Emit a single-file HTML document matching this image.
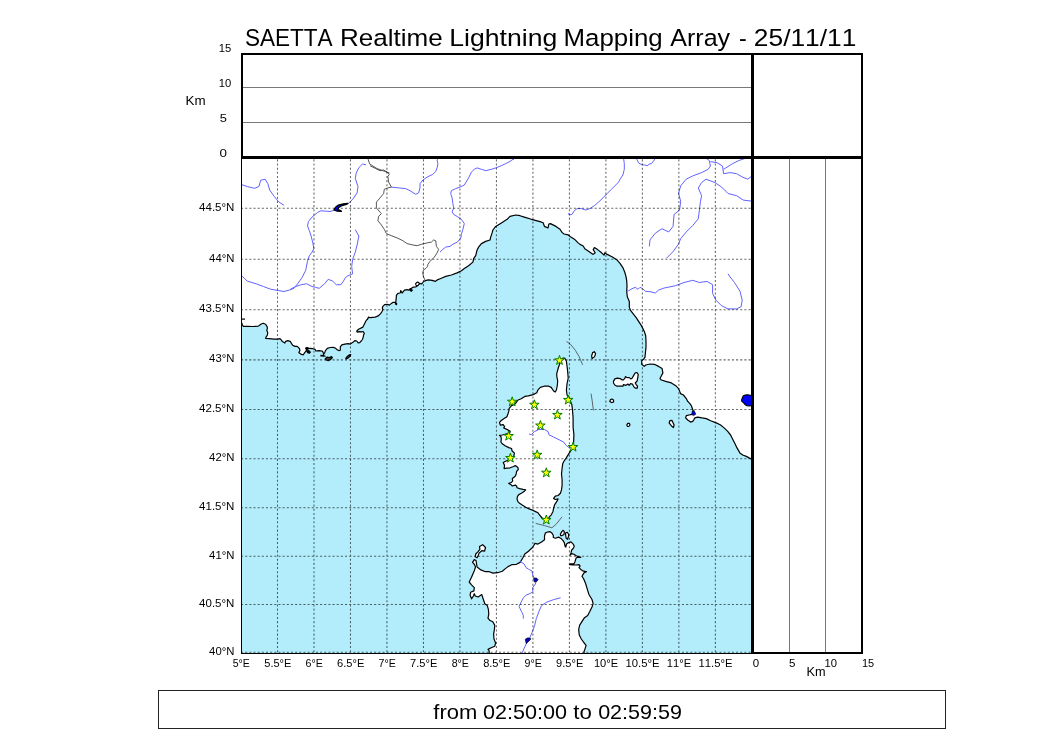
<!DOCTYPE html><html><head><meta charset="utf-8"><style>html,body{margin:0;padding:0;background:#fff;width:1050px;height:750px;overflow:hidden}svg{display:block;will-change:transform}text{font-family:"Liberation Sans",sans-serif;fill:#000;font-kerning:none}</style></head><body>
<svg width="1050" height="750" viewBox="0 0 1050 750">
<rect width="1050" height="750" fill="#fff"/>
<defs><clipPath id="mc"><rect x="241" y="157" width="511" height="496"/></clipPath></defs>
<g clip-path="url(#mc)">
<rect x="241" y="157" width="511" height="496" fill="#b3edfc"/>
<path d="M241.0,323.0 L241.9,323.0 L242.2,324.8 L243.4,326.3 L247.0,326.3 L253.0,326.5 L258.4,326.1 L260.8,324.2 L263.2,323.3 L265.6,324.2 L267.1,326.6 L267.4,328.4 L266.8,330.2 L267.7,332.6 L267.4,335.0 L266.2,336.8 L265.6,338.3 L269.2,338.6 L274.0,339.2 L277.6,339.2 L280.0,338.6 L281.2,339.8 L282.4,341.6 L284.8,343.1 L285.7,341.3 L287.8,340.7 L290.2,341.3 L291.4,343.4 L292.6,345.2 L295.0,346.4 L297.2,346.4 L298.4,347.5 L299.5,348.7 L299.9,350.6 L298.8,352.5 L301.4,354.4 L303.3,354.8 L304.5,352.9 L306.4,350.6 L306.8,348.3 L309.0,348.3 L312.9,348.7 L315.1,349.4 L315.9,351.0 L319.0,350.6 L322.0,351.0 L323.1,352.1 L323.5,354.4 L324.7,352.9 L325.4,350.6 L327.3,348.3 L330.4,347.5 L333.4,347.4 L335.7,348.3 L337.2,349.8 L339.1,350.6 L340.3,350.2 L340.3,346.8 L341.8,344.9 L344.9,344.1 L347.9,343.7 L350.2,344.1 L352.5,342.6 L354.8,340.7 L356.7,341.0 L358.2,342.9 L359.7,342.6 L361.2,341.0 L362.4,339.5 L363.1,337.6 L363.5,335.3 L364.3,333.4 L363.1,331.5 L361.6,331.9 L359.3,331.6 L357.1,332.1 L356.8,331.0 L358.6,329.3 L362.9,327.1 L364.3,324.3 L366.4,320.0 L367.4,319.4 L368.6,317.1 L370.3,317.7 L372.6,317.4 L374.9,317.1 L376.6,316.6 L378.9,315.4 L380.6,313.7 L381.7,312.0 L382.9,309.7 L382.3,308.0 L382.9,306.3 L384.6,304.6 L387.4,304.3 L389.4,305.1 L391.4,303.4 L393.1,302.3 L395.4,302.3 L396.6,303.4 L396.6,304.6 L395.4,304.0 L396.0,300.6 L396.3,297.1 L396.4,295.3 L397.9,293.4 L400.2,293.0 L400.7,290.6 L402.1,293.0 L404.5,290.1 L406.9,289.6 L408.8,290.1 L410.7,288.7 L413.1,287.2 L416.0,286.8 L417.4,285.8 L419.8,283.4 L421.7,283.9 L423.6,281.5 L425.5,280.6 L428.3,279.9 L432.1,280.3 L435.5,281.3 L437.9,279.6 L440.2,278.7 L442.6,277.7 L445.7,276.4 L451.4,275.0 L457.1,272.9 L461.4,270.7 L464.3,268.6 L468.6,265.7 L472.9,262.1 L473.6,258.6 L475.7,255.7 L477.1,250.0 L478.6,247.1 L481.4,243.6 L485.7,241.4 L490.0,240.0 L490.7,237.1 L492.1,232.9 L492.9,230.0 L495.7,226.4 L501.4,222.9 L507.1,219.3 L510.0,216.4 L515.7,215.0 L520.0,215.7 L524.3,217.1 L531.4,219.3 L540.0,221.6 L543.2,222.8 L544.4,226.4 L548.0,228.0 L548.8,224.0 L550.4,223.6 L556.0,226.4 L560.0,229.2 L562.0,232.4 L564.0,234.0 L568.0,234.8 L570.4,236.8 L574.4,239.2 L577.6,242.4 L580.0,244.4 L583.2,246.0 L584.8,248.8 L589.6,252.0 L593.2,254.4 L595.2,252.8 L593.2,249.6 L594.4,247.6 L597.6,249.6 L601.6,252.8 L604.0,255.2 L604.8,252.8 L607.2,254.4 L612.0,256.8 L616.7,259.7 L620.0,263.3 L622.7,267.3 L624.7,272.0 L626.0,276.7 L626.7,280.7 L627.0,286.0 L626.7,291.3 L627.3,296.7 L629.3,301.4 L629.3,307.1 L630.7,310.7 L633.6,314.3 L636.4,317.9 L638.6,321.4 L641.4,325.7 L642.9,328.6 L644.3,331.4 L645.7,335.7 L646.0,341.4 L646.0,347.1 L645.4,352.9 L645.0,357.1 L643.6,359.3 L641.7,360.7 L641.7,364.3 L644.3,366.4 L645.7,365.0 L650.0,364.0 L654.3,364.3 L658.6,366.4 L662.1,368.6 L662.9,372.9 L661.4,375.7 L660.0,378.6 L661.4,380.0 L665.7,381.4 L671.4,382.9 L675.7,385.7 L678.6,388.6 L680.6,393.6 L683.4,395.0 L686.3,398.6 L687.7,401.4 L689.9,403.6 L691.3,405.7 L692.7,409.3 L693.4,412.1 L692.0,414.3 L689.1,415.0 L686.3,415.7 L685.6,417.9 L687.7,420.0 L690.6,422.1 L692.7,421.4 L694.1,419.3 L694.9,417.9 L697.7,417.1 L702.0,417.9 L706.3,418.6 L710.6,420.7 L716.3,422.9 L720.6,425.0 L724.1,427.9 L727.7,431.4 L730.6,435.0 L732.7,439.3 L734.9,443.6 L737.0,447.9 L739.9,452.9 L742.7,455.0 L746.3,456.4 L749.1,457.9 L753.0,459.8 L753.0,156.0 L240.0,156.0 L240.0,323.0Z" fill="#fff"/>
<path d="M325.2,358.6 L327.0,357.2 L329.5,357.6 L331.5,356.6 L332.4,357.6 L330.5,359.5 L328.2,360.6 L326.2,360.0Z" fill="#444" stroke="#000" stroke-width="1.2" stroke-linejoin="round"/>
<path d="M345.8,358.4 L347.5,356.2 L349.5,354.8 L350.8,354.6 L350.0,356.4 L347.8,358.2 L346.2,359.0Z" fill="#444" stroke="#000" stroke-width="1.2" stroke-linejoin="round"/>
<path d="M563.2,358.0 L564.4,358.0 L565.2,358.8 L566.4,361.2 L567.0,366.0 L567.6,370.8 L568.2,378.0 L567.0,384.0 L566.4,390.0 L567.0,394.8 L569.4,398.4 L571.8,404.4 L572.4,409.2 L573.0,416.4 L573.1,420.0 L573.1,427.3 L573.9,434.7 L573.6,442.0 L573.4,444.5 L571.2,450.2 L568.9,453.6 L566.1,458.1 L563.8,461.5 L562.7,463.8 L562.1,468.3 L561.5,474.0 L562.1,479.7 L562.1,485.3 L561.5,489.9 L560.4,493.3 L558.1,495.5 L555.3,496.1 L553.6,498.4 L555.3,499.5 L558.1,498.9 L557.0,501.2 L554.7,504.6 L553.6,508.0 L553.0,511.4 L551.3,514.8 L549.1,517.1 L548.9,518.3 L546.7,521.2 L544.5,519.7 L541.6,517.5 L538.7,513.9 L538.0,512.8 L536.1,511.9 L532.6,510.2 L529.2,508.9 L525.7,507.2 L522.2,505.0 L519.6,503.3 L517.9,501.6 L517.0,499.0 L517.5,496.4 L518.8,494.6 L521.4,493.3 L524.0,491.6 L525.7,489.9 L523.1,489.4 L519.6,488.6 L517.0,487.7 L516.6,486.0 L515.3,485.1 L512.3,486.0 L511.0,484.7 L508.8,483.4 L511.4,482.5 L512.7,480.8 L512.3,478.6 L514.0,477.3 L515.3,476.0 L516.2,473.9 L516.6,471.3 L518.3,469.5 L517.9,467.4 L515.3,465.6 L513.6,466.5 L510.1,467.8 L506.7,468.2 L504.1,468.7 L504.5,465.2 L503.2,462.5 L505.1,461.5 L508.8,459.7 L512.0,457.8 L513.9,455.9 L514.4,453.1 L512.0,450.8 L511.6,448.5 L508.8,447.6 L505.1,445.7 L502.3,443.8 L500.9,442.0 L501.3,439.2 L500.9,436.4 L499.5,435.4 L502.3,435.0 L506.0,434.0 L509.7,433.1 L510.2,431.2 L506.9,429.4 L503.7,428.0 L504.6,426.6 L503.2,424.7 L500.4,425.2 L499.5,422.4 L501.3,420.5 L504.1,418.6 L506.9,416.8 L507.9,414.0 L508.8,411.2 L509.2,408.4 L511.6,405.6 L515.3,403.7 L518.1,400.0 L521.2,398.8 L524.8,396.4 L528.4,395.8 L533.2,394.6 L536.8,392.8 L538.0,389.8 L540.4,387.4 L544.0,386.2 L548.8,386.2 L551.2,387.4 L553.6,391.0 L555.2,392.0 L556.4,390.0 L557.3,385.5 L557.7,381.0 L556.9,377.0 L556.7,373.8 L557.6,370.4 L558.4,367.5 L559.5,364.5 L560.8,360.5Z" fill="#fff" stroke="#000" stroke-width="1.2" stroke-linejoin="round"/>
<path d="M489.2,655.0 L489.2,653.4 L489.2,651.0 L488.0,649.4 L491.2,647.8 L494.8,646.2 L495.6,643.0 L494.0,639.0 L493.6,634.2 L494.4,629.4 L494.8,625.4 L492.8,621.8 L489.6,620.2 L488.0,618.2 L488.8,614.2 L488.4,609.4 L487.2,605.4 L484.8,603.8 L483.2,599.0 L481.8,594.6 L478.1,597.0 L475.3,596.0 L474.3,593.7 L473.4,596.0 L471.5,598.8 L470.1,595.1 L470.6,592.3 L473.9,590.9 L474.3,587.6 L471.5,584.8 L469.2,582.0 L471.5,577.3 L474.3,570.8 L475.5,567.0 L474.5,564.5 L472.5,562.4 L474.3,559.6 L476.0,560.5 L476.5,563.5 L477.1,567.1 L480.9,569.9 L485.5,571.7 L489.3,571.7 L493.0,573.1 L497.7,572.7 L502.3,571.3 L505.1,568.9 L508.0,566.6 L511.7,564.7 L516.4,564.3 L520.1,562.4 L522.9,557.7 L524.8,554.0 L528.5,551.2 L530.0,549.8 L532.8,547.2 L535.0,543.3 L537.9,544.1 L541.6,541.9 L544.5,539.7 L544.5,536.0 L545.3,533.1 L547.5,532.0 L549.7,531.6 L551.9,533.1 L553.3,535.3 L553.3,537.5 L555.5,538.2 L558.5,537.1 L560.7,538.2 L562.9,540.4 L564.3,542.6 L565.1,546.3 L565.8,547.0 L566.5,544.1 L568.7,542.6 L571.0,541.9 L573.2,544.1 L574.3,546.3 L573.2,548.5 L571.7,550.0 L571.0,552.9 L570.2,555.1 L571.7,553.6 L573.9,554.3 L576.1,555.8 L578.3,556.5 L580.9,557.3 L577.6,557.3 L576.1,558.0 L575.0,561.7 L573.9,563.9 L570.2,563.9 L569.5,564.6 L573.2,565.0 L576.1,565.0 L579.0,564.6 L580.1,566.1 L579.0,567.6 L581.2,569.8 L583.4,571.2 L586.4,571.6 L584.2,572.7 L582.7,574.9 L582.0,576.4 L583.5,578.5 L585.6,583.5 L587.2,588.9 L588.8,594.2 L592.0,599.5 L593.1,603.3 L592.0,607.0 L589.9,611.3 L587.7,615.5 L584.5,617.7 L582.4,620.9 L579.7,625.1 L578.7,629.4 L579.2,634.7 L581.3,639.0 L584.5,643.3 L586.1,645.4 L585.1,648.6 L584.0,651.8 L584.0,655.0Z" fill="#fff" stroke="#000" stroke-width="1.2" stroke-linejoin="round"/>
<path d="M479.5,546.5 L482.7,544.7 L485.5,547.5 L484.6,551.2 L481.8,550.7 L479.0,553.1 L478.1,555.9 L477.1,557.7 L475.3,556.8 L475.7,554.0 L477.6,552.1 L479.9,549.3Z" fill="#fff" stroke="#000" stroke-width="1.2" stroke-linejoin="round"/>
<path d="M613.5,381.4 L614.8,378.9 L617.4,378.2 L620.2,378.6 L621.8,379.8 L623.4,379.8 L625.0,378.2 L625.4,376.6 L626.6,377.3 L629.2,377.6 L630.8,378.9 L632.1,378.2 L633.7,375.4 L635.3,372.8 L636.9,372.5 L638.2,374.4 L637.8,377.6 L637.2,380.8 L635.3,383.0 L636.2,384.6 L637.5,386.2 L637.2,388.2 L635.3,388.2 L633.7,386.6 L632.4,384.0 L630.5,383.7 L629.2,385.3 L627.9,384.0 L626.0,385.3 L623.4,384.6 L623.1,386.2 L620.6,386.2 L617.0,386.2 L614.8,385.0 L613.5,383.0Z" fill="#fff" stroke="#000" stroke-width="1.2" stroke-linejoin="round"/>
<path d="M592.1,358.6 L591.6,356.0 L592.6,352.6 L594.3,351.7 L595.6,353.6 L594.6,356.6Z" fill="#fff" stroke="#000" stroke-width="1.2" stroke-linejoin="round"/>
<path d="M669.9,420.7 L672.0,420.4 L674.1,425.0 L673.4,427.6 L671.3,425.7 L669.1,422.9Z" fill="#fff" stroke="#000" stroke-width="1.2" stroke-linejoin="round"/>
<path d="M609.8,401.5 L610.5,399.5 L611.8,399.0 L613.5,400.0 L613.6,402.0 L611.5,402.6Z" fill="#fff" stroke="#000" stroke-width="1.2" stroke-linejoin="round"/>
<path d="M626.8,425.0 L627.6,423.4 L629.4,423.4 L630.0,425.0 L628.8,426.5 L627.4,426.3Z" fill="#fff" stroke="#000" stroke-width="1.2" stroke-linejoin="round"/>
<path d="M560.3,534.2 L561.8,531.6 L563.2,530.3 L564.3,531.6 L564.0,534.5 L562.1,535.6 L560.7,535.6Z" fill="#fff" stroke="#000" stroke-width="1.2" stroke-linejoin="round"/>
<path d="M565.4,533.1 L567.3,532.3 L568.7,534.5 L568.4,536.7 L567.6,539.3 L566.2,538.2 L565.8,536.0Z" fill="#fff" stroke="#000" stroke-width="1.2" stroke-linejoin="round"/>
<polyline points="241.0,323.0 241.9,323.0 242.2,324.8 243.4,326.3 247.0,326.3 253.0,326.5 258.4,326.1 260.8,324.2 263.2,323.3 265.6,324.2 267.1,326.6 267.4,328.4 266.8,330.2 267.7,332.6 267.4,335.0 266.2,336.8 265.6,338.3 269.2,338.6 274.0,339.2 277.6,339.2 280.0,338.6 281.2,339.8 282.4,341.6 284.8,343.1 285.7,341.3 287.8,340.7 290.2,341.3 291.4,343.4 292.6,345.2 295.0,346.4 297.2,346.4 298.4,347.5 299.5,348.7 299.9,350.6 298.8,352.5 301.4,354.4 303.3,354.8 304.5,352.9 306.4,350.6 306.8,348.3 309.0,348.3 312.9,348.7 315.1,349.4 315.9,351.0 319.0,350.6 322.0,351.0 323.1,352.1 323.5,354.4 324.7,352.9 325.4,350.6 327.3,348.3 330.4,347.5 333.4,347.4 335.7,348.3 337.2,349.8 339.1,350.6 340.3,350.2 340.3,346.8 341.8,344.9 344.9,344.1 347.9,343.7 350.2,344.1 352.5,342.6 354.8,340.7 356.7,341.0 358.2,342.9 359.7,342.6 361.2,341.0 362.4,339.5 363.1,337.6 363.5,335.3 364.3,333.4 363.1,331.5 361.6,331.9 359.3,331.6 357.1,332.1 356.8,331.0 358.6,329.3 362.9,327.1 364.3,324.3 366.4,320.0 367.4,319.4 368.6,317.1 370.3,317.7 372.6,317.4 374.9,317.1 376.6,316.6 378.9,315.4 380.6,313.7 381.7,312.0 382.9,309.7 382.3,308.0 382.9,306.3 384.6,304.6 387.4,304.3 389.4,305.1 391.4,303.4 393.1,302.3 395.4,302.3 396.6,303.4 396.6,304.6 395.4,304.0 396.0,300.6 396.3,297.1 396.4,295.3 397.9,293.4 400.2,293.0 400.7,290.6 402.1,293.0 404.5,290.1 406.9,289.6 408.8,290.1 410.7,288.7 413.1,287.2 416.0,286.8 417.4,285.8 419.8,283.4 421.7,283.9 423.6,281.5 425.5,280.6 428.3,279.9 432.1,280.3 435.5,281.3 437.9,279.6 440.2,278.7 442.6,277.7 445.7,276.4 451.4,275.0 457.1,272.9 461.4,270.7 464.3,268.6 468.6,265.7 472.9,262.1 473.6,258.6 475.7,255.7 477.1,250.0 478.6,247.1 481.4,243.6 485.7,241.4 490.0,240.0 490.7,237.1 492.1,232.9 492.9,230.0 495.7,226.4 501.4,222.9 507.1,219.3 510.0,216.4 515.7,215.0 520.0,215.7 524.3,217.1 531.4,219.3 540.0,221.6 543.2,222.8 544.4,226.4 548.0,228.0 548.8,224.0 550.4,223.6 556.0,226.4 560.0,229.2 562.0,232.4 564.0,234.0 568.0,234.8 570.4,236.8 574.4,239.2 577.6,242.4 580.0,244.4 583.2,246.0 584.8,248.8 589.6,252.0 593.2,254.4 595.2,252.8 593.2,249.6 594.4,247.6 597.6,249.6 601.6,252.8 604.0,255.2 604.8,252.8 607.2,254.4 612.0,256.8 616.7,259.7 620.0,263.3 622.7,267.3 624.7,272.0 626.0,276.7 626.7,280.7 627.0,286.0 626.7,291.3 627.3,296.7 629.3,301.4 629.3,307.1 630.7,310.7 633.6,314.3 636.4,317.9 638.6,321.4 641.4,325.7 642.9,328.6 644.3,331.4 645.7,335.7 646.0,341.4 646.0,347.1 645.4,352.9 645.0,357.1 643.6,359.3 641.7,360.7 641.7,364.3 644.3,366.4 645.7,365.0 650.0,364.0 654.3,364.3 658.6,366.4 662.1,368.6 662.9,372.9 661.4,375.7 660.0,378.6 661.4,380.0 665.7,381.4 671.4,382.9 675.7,385.7 678.6,388.6 680.6,393.6 683.4,395.0 686.3,398.6 687.7,401.4 689.9,403.6 691.3,405.7 692.7,409.3 693.4,412.1 692.0,414.3 689.1,415.0 686.3,415.7 685.6,417.9 687.7,420.0 690.6,422.1 692.7,421.4 694.1,419.3 694.9,417.9 697.7,417.1 702.0,417.9 706.3,418.6 710.6,420.7 716.3,422.9 720.6,425.0 724.1,427.9 727.7,431.4 730.6,435.0 732.7,439.3 734.9,443.6 737.0,447.9 739.9,452.9 742.7,455.0 746.3,456.4 749.1,457.9 753.0,459.8" fill="none" stroke="#000" stroke-width="1.2" stroke-linejoin="round"/>
<ellipse cx="417.4" cy="283.9" rx="1.9" ry="1.5" transform="rotate(-40 417.4 283.9)" fill="#fff" stroke="#000" stroke-width="1.1"/>
<path d="M409.3,289 L411,288.6 L412.6,290.3 L411.6,291.5 L410,290.8 Z" fill="#000" stroke="#000" stroke-width="0.8"/>
<path d="M241,319.1 L245,319.1" stroke="#000" stroke-width="1.2"/>
<ellipse cx="307" cy="348.5" rx="1.9" ry="1.4" fill="#000"/>
<path d="M306.2,350.4 L308.6,350.1 L310.8,352.1 L309.6,353.5 L307.4,352.9 Z" fill="#000" stroke="#000" stroke-width="0.6"/>
<path d="M320.2,354.8 L323.8,354.9 L326.4,356.2 L324,356.8 L320.5,356.6 Z" fill="#000"/>
<polyline points="241.8,184.7 247.2,186.5 254.4,188.3 258.9,186.5 260.7,180.2 265.2,179.3 267.9,183.8 269.7,190.1 274.2,196.4 278.7,201.8 284.1,205.4" fill="none" stroke="#6262ff" stroke-width="1" stroke-linejoin="round"/>
<polyline points="366.1,164.9 362.5,164.0 358.9,167.6 356.2,173.0 355.3,178.4 358.0,186.5 357.1,192.8 353.5,198.2 350.8,201.3 348.3,203.3" fill="none" stroke="#6262ff" stroke-width="1" stroke-linejoin="round"/>
<polyline points="334.2,210.2 330.0,211.5 326.4,211.2 321.0,210.8 317.4,212.6 312.0,217.1 308.4,221.6 307.5,226.1 309.3,230.6 311.1,236.0 312.9,243.2 313.8,248.6 312.0,252.2 309.3,255.8 307.5,261.2 305.7,270.3 302.1,277.5 297.6,283.8 294.0,288.3 289.5,290.0 284.0,291.5" fill="none" stroke="#6262ff" stroke-width="1" stroke-linejoin="round"/>
<polyline points="355.3,229.7 358.9,236.0 357.1,245.0 355.3,252.2 352.6,259.4 351.7,266.6 352.6,273.9 348.1,275.7 345.4,277.5 343.5,281.1 340.8,284.7 336.3,284.7 332.7,281.1 328.2,279.3 324.6,283.8 319.2,288.3 315.6,287.4 312.0,286.5 306.6,283.8 301.2,284.7 295.8,286.5 290.4,289.2" fill="none" stroke="#6262ff" stroke-width="1" stroke-linejoin="round"/>
<polyline points="241.8,275.7 247.2,281.1 256.2,283.8 263.4,286.5 270.6,289.2 278.0,290.5 284.0,291.5" fill="none" stroke="#6262ff" stroke-width="1" stroke-linejoin="round"/>
<polyline points="391.4,187.1 398.6,187.9 405.7,188.6 410.0,190.7 415.7,194.3 418.6,192.9 420.0,187.9 420.0,183.6 422.9,180.0 427.1,177.1 432.9,174.3 435.7,171.4 437.1,167.9 437.9,163.6 437.1,160.0 437.9,158.6" fill="none" stroke="#6262ff" stroke-width="1" stroke-linejoin="round"/>
<polyline points="512.9,159.3 510.0,161.4 505.7,163.6 501.4,165.7 495.7,167.9 491.4,169.3 485.7,170.7 481.4,169.3 477.1,167.9 474.3,169.3 471.4,172.1 468.6,177.9 464.3,185.0 460.0,187.1 455.7,188.6 451.4,190.7 450.7,193.6 452.1,197.9 452.9,203.6 453.6,207.9 452.1,212.1 454.3,215.0 457.1,216.4 461.4,219.3 464.3,223.6 462.9,229.3 461.4,234.3 460.7,238.6 457.1,242.1 452.9,244.3 450.0,246.4 445.7,247.1 442.9,249.3 440.0,252.1" fill="none" stroke="#6262ff" stroke-width="1" stroke-linejoin="round"/>
<polyline points="512.9,160.0 515.0,158.0" fill="none" stroke="#6262ff" stroke-width="1" stroke-linejoin="round"/>
<polyline points="623.6,158.5 624.3,163.6 624.3,169.3 622.9,175.0 620.0,179.3 618.6,182.1 615.7,185.0 611.4,189.3 607.1,193.6 602.9,197.9 598.6,202.1 594.3,205.7 590.0,208.6 585.7,210.0 581.4,208.6 577.1,208.6 574.3,210.7 572.1,214.3 569.3,215.0 568.6,212.9" fill="none" stroke="#6262ff" stroke-width="1" stroke-linejoin="round"/>
<polyline points="636.4,158.5 638.6,162.9 640.0,163.8 642.9,165.0 644.4,164.9 647.1,165.7 649.9,163.8 651.4,163.6 654.3,160.0 655.0,158.5" fill="none" stroke="#6262ff" stroke-width="1" stroke-linejoin="round"/>
<polyline points="649.3,246.4 650.0,240.0 651.0,238.6 655.4,233.1 662.0,228.7 668.6,232.0 673.0,226.5 674.1,214.4 679.6,210.0 680.7,201.2 678.5,193.5 680.7,185.8 686.2,179.2 692.8,175.9 701.6,172.6 708.2,169.3 710.4,166.0 709.3,160.5 706.0,158.3" fill="none" stroke="#6262ff" stroke-width="1" stroke-linejoin="round"/>
<polyline points="666.4,258.3 673.0,251.7 678.5,244.1 680.7,238.6 686.2,232.0 692.8,225.4 698.3,218.8 699.4,210.0 700.5,201.2 701.6,195.7 698.3,188.0 701.6,182.5 706.0,179.2 714.8,182.5 721.4,186.9 728.0,193.5 736.7,195.7 743.3,200.1 752.0,201.2" fill="none" stroke="#6262ff" stroke-width="1" stroke-linejoin="round"/>
<polyline points="710.4,161.6 717.0,162.7 722.5,166.0 723.6,173.7 730.1,172.6 736.7,173.7 742.2,177.0 747.7,179.2 752.0,175.9" fill="none" stroke="#6262ff" stroke-width="1" stroke-linejoin="round"/>
<polyline points="723.6,169.3 732.3,163.8 738.9,160.5 745.5,158.3 752.0,157.5" fill="none" stroke="#6262ff" stroke-width="1" stroke-linejoin="round"/>
<polyline points="626.7,291.3 628.7,290.7 632.0,288.7 635.3,287.3 638.0,289.3 640.0,287.3 642.7,288.7 645.3,291.3 650.0,291.7 655.3,293.0 658.7,290.0 664.2,288.0 675.2,285.8 684.0,282.5 692.8,280.3 699.4,282.5 707.1,281.4 712.6,284.7 712.6,293.5 715.9,300.1 721.4,305.6 728.0,308.9 736.7,308.9 741.1,306.7 742.2,300.1 740.0,291.3 734.5,282.5 730.1,277.0 728.0,273.7" fill="none" stroke="#6262ff" stroke-width="1" stroke-linejoin="round"/>
<polyline points="529.1,433.9 531.3,434.7 534.3,431.7 538.7,429.5 544.5,429.5 548.2,431.7 548.9,434.7 553.3,436.9 559.2,439.8 563.6,442.0 566.5,445.7 569.5,447.9" fill="none" stroke="#6262ff" stroke-width="1" stroke-linejoin="round"/>
<polyline points="519.8,561.4 524.2,564.0 525.9,567.5 528.5,569.2 532.0,571.0 532.8,575.3 534.6,578.8 536.3,580.5 535.4,584.0 532.8,587.4 532.8,591.8 530.2,593.5 525.9,595.2 523.3,597.8 520.7,603.0 519.0,606.5 521.6,611.7 523.3,615.2 523.3,618.6" fill="none" stroke="#6262ff" stroke-width="1" stroke-linejoin="round"/>
<polyline points="560.6,597.8 553.6,599.6 546.7,602.2 541.5,605.6 538.9,611.7 536.3,618.6 534.6,625.6 532.0,632.5 529.4,638.6 526.8,642.9 524.2,648.1 522.4,652.4 522.0,654.0" fill="none" stroke="#6262ff" stroke-width="1" stroke-linejoin="round"/>
<polyline points="367.9,157.5 367.9,158.6 369.7,164.0 376.9,168.5 384.1,171.2 389.5,173.0" fill="none" stroke="#444" stroke-width="0.9" stroke-linejoin="round"/>
<polyline points="370.0,165.7 375.7,168.6 380.0,170.7 383.6,170.0 387.1,172.1 389.3,174.3 387.9,176.4 388.6,182.1 391.4,187.1 387.9,187.9 384.3,189.3 383.6,193.6 380.0,197.9 376.4,202.1 376.4,207.9 380.0,212.1 381.4,213.6 378.6,216.4 377.9,220.7 381.4,225.0 384.3,229.3 386.4,233.6 391.4,235.7 397.1,237.9 402.9,240.7 407.1,243.6 412.9,245.0 417.1,245.7 421.4,244.3 427.1,242.9 431.4,242.1 433.6,240.0 435.7,240.7 436.4,246.4 438.6,249.3 437.1,252.9 434.3,257.1 430.0,261.4 427.9,264.4 427.4,266.8 426.0,268.2 423.6,270.1 422.6,272.5 423.6,277.1 425.0,280.0" fill="none" stroke="#444" stroke-width="0.9" stroke-linejoin="round"/>
<polyline points="566.4,341.4 570.6,344.4 575.4,350.4 579.0,356.4 582.6,364.8" fill="none" stroke="#444" stroke-width="0.8"/>
<polyline points="591.0,393.6 592.2,400.8 593.4,410.4" fill="none" stroke="#444" stroke-width="0.8"/>
<polyline points="535.7,523.4 544.5,525.6 551.9,527.8 556.3,524.1 562.1,516.8" fill="none" stroke="#444" stroke-width="0.8"/>
<path d="M347.9,203.4 L343.3,203.8 L338.2,205.2 L335.5,207.2 L334,209.9 L336.7,211 L341.5,211.3 L340,210.3 L337.6,209.3 L338.9,207.4 L342,205.5 L346.5,204.4 Z" fill="#0000ff" stroke="#000" stroke-width="1.3" stroke-linejoin="round"/>
<path d="M533.6,578.3 L536.5,578 L538.2,579.8 L536.5,581.6 L534.4,582 Z" fill="#0000c8" stroke="#000" stroke-width="0.7"/>
<path d="M525.3,639.2 L528,637.8 L531,638.8 L528.8,641.2 L526.2,643.5 Z" fill="#0000c8" stroke="#000" stroke-width="0.7"/>
<path d="M692.4,411.2 L694.2,410.6 L695.8,414.2 L693.6,415.6 L691.6,414.6 Z" fill="#0000e0" stroke="#000" stroke-width="0.6"/>
<path d="M277.49,652.27V156.9M313.98,652.27V156.9M350.47,652.27V156.9M386.96,652.27V156.9M423.45,652.27V156.9M459.94,652.27V156.9M496.43,652.27V156.9M532.92,652.27V156.9M569.41,652.27V156.9M605.89,652.27V156.9M642.38,652.27V156.9M678.87,652.27V156.9M715.36,652.27V156.9M241,652.27H752M241,604.47H752M241,556.30H752M241,507.76H752M241,458.85H752M241,409.56H752M241,359.87H752M241,309.77H752M241,259.25H752M241,208.31H752" stroke="#000" stroke-opacity="0.6" stroke-width="1.04" stroke-dasharray="2.08 2.08" fill="none"/>
<path d="M559.50,355.40 L560.65,358.82 L564.26,358.85 L561.35,361.00 L562.44,364.45 L559.50,362.35 L556.56,364.45 L557.65,361.00 L554.74,358.85 L558.35,358.82Z" fill="#ffff00" stroke="#008000" stroke-width="1.0" stroke-linejoin="miter"/>
<path d="M512.20,396.80 L513.35,400.22 L516.96,400.25 L514.05,402.40 L515.14,405.85 L512.20,403.75 L509.26,405.85 L510.35,402.40 L507.44,400.25 L511.05,400.22Z" fill="#ffff00" stroke="#008000" stroke-width="1.0" stroke-linejoin="miter"/>
<path d="M534.40,399.80 L535.55,403.22 L539.16,403.25 L536.25,405.40 L537.34,408.85 L534.40,406.75 L531.46,408.85 L532.55,405.40 L529.64,403.25 L533.25,403.22Z" fill="#ffff00" stroke="#008000" stroke-width="1.0" stroke-linejoin="miter"/>
<path d="M568.20,395.00 L569.35,398.42 L572.96,398.45 L570.05,400.60 L571.14,404.05 L568.20,401.95 L565.26,404.05 L566.35,400.60 L563.44,398.45 L567.05,398.42Z" fill="#ffff00" stroke="#008000" stroke-width="1.0" stroke-linejoin="miter"/>
<path d="M557.40,410.00 L558.55,413.42 L562.16,413.45 L559.25,415.60 L560.34,419.05 L557.40,416.95 L554.46,419.05 L555.55,415.60 L552.64,413.45 L556.25,413.42Z" fill="#ffff00" stroke="#008000" stroke-width="1.0" stroke-linejoin="miter"/>
<path d="M540.40,420.60 L541.55,424.02 L545.16,424.05 L542.25,426.20 L543.34,429.65 L540.40,427.55 L537.46,429.65 L538.55,426.20 L535.64,424.05 L539.25,424.02Z" fill="#ffff00" stroke="#008000" stroke-width="1.0" stroke-linejoin="miter"/>
<path d="M508.60,431.10 L509.75,434.52 L513.36,434.55 L510.45,436.70 L511.54,440.15 L508.60,438.05 L505.66,440.15 L506.75,436.70 L503.84,434.55 L507.45,434.52Z" fill="#ffff00" stroke="#008000" stroke-width="1.0" stroke-linejoin="miter"/>
<path d="M573.10,442.10 L574.25,445.52 L577.86,445.55 L574.95,447.70 L576.04,451.15 L573.10,449.05 L570.16,451.15 L571.25,447.70 L568.34,445.55 L571.95,445.52Z" fill="#ffff00" stroke="#008000" stroke-width="1.0" stroke-linejoin="miter"/>
<path d="M537.20,449.90 L538.35,453.32 L541.96,453.35 L539.05,455.50 L540.14,458.95 L537.20,456.85 L534.26,458.95 L535.35,455.50 L532.44,453.35 L536.05,453.32Z" fill="#ffff00" stroke="#008000" stroke-width="1.0" stroke-linejoin="miter"/>
<path d="M510.40,453.10 L511.55,456.52 L515.16,456.55 L512.25,458.70 L513.34,462.15 L510.40,460.05 L507.46,462.15 L508.55,458.70 L505.64,456.55 L509.25,456.52Z" fill="#ffff00" stroke="#008000" stroke-width="1.0" stroke-linejoin="miter"/>
<path d="M546.30,467.80 L547.45,471.22 L551.06,471.25 L548.15,473.40 L549.24,476.85 L546.30,474.75 L543.36,476.85 L544.45,473.40 L541.54,471.25 L545.15,471.22Z" fill="#ffff00" stroke="#008000" stroke-width="1.0" stroke-linejoin="miter"/>
<path d="M546.30,515.00 L547.45,518.42 L551.06,518.45 L548.15,520.60 L549.24,524.05 L546.30,521.95 L543.36,524.05 L544.45,520.60 L541.54,518.45 L545.15,518.42Z" fill="#ffff00" stroke="#008000" stroke-width="1.0" stroke-linejoin="miter"/>
<path d="M741.6,400 L742.4,397.6 L743.4,395.8 L745.2,395.1 L747.5,394.8 L749.4,395.1 L752.5,395.5 L752.5,405.2 L749.4,406 L746.8,405.7 L745.1,404.5 L743.4,402.7 L741.8,401.3 Z" fill="#0000ff" stroke="#000" stroke-width="1.1" stroke-linejoin="round"/>
</g>
<rect x="242" y="54" width="620" height="103" fill="none" stroke="#000" stroke-width="2"/>
<path d="M243,87.5H751M243,122.5H751" stroke="#787878" stroke-width="1"/>
<rect x="241" y="156" width="622" height="3" fill="#000"/>
<rect x="751" y="53" width="3" height="601" fill="#000"/>
<rect x="241" y="157" width="1" height="497" fill="#000"/>
<rect x="241" y="653" width="511" height="1" fill="#000"/>
<path d="M789.5,159V652M825.5,159V652" stroke="#787878" stroke-width="1"/>
<rect x="751" y="652" width="112" height="2" fill="#000"/>
<rect x="861" y="53" width="2" height="601" fill="#000"/>
<rect x="158.5" y="690.5" width="787" height="38" fill="none" stroke="#222" stroke-width="1"/>
<text x="244.88" y="45.90" font-size="24.50" textLength="87.77" lengthAdjust="spacingAndGlyphs">SAETTA</text>
<text x="340.07" y="45.90" font-size="24.50" textLength="102.69" lengthAdjust="spacingAndGlyphs">Realtime</text>
<text x="449.32" y="45.90" font-size="24.50" textLength="108.00" lengthAdjust="spacingAndGlyphs">Lightning</text>
<text x="563.58" y="45.90" font-size="24.50" textLength="99.08" lengthAdjust="spacingAndGlyphs">Mapping</text>
<text x="670.35" y="45.90" font-size="24.50" textLength="59.80" lengthAdjust="spacingAndGlyphs">Array</text>
<text x="739.06" y="45.90" font-size="24.50" textLength="7.77" lengthAdjust="spacingAndGlyphs">-</text>
<text x="753.88" y="45.90" font-size="24.50" textLength="102.41" lengthAdjust="spacingAndGlyphs">25/11/11</text>
<text x="218.84" y="52.00" font-size="10.90" textLength="12.53" lengthAdjust="spacingAndGlyphs">15</text>
<text x="218.84" y="87.20" font-size="10.90" textLength="12.49" lengthAdjust="spacingAndGlyphs">10</text>
<text x="219.78" y="122.00" font-size="10.90" textLength="7.16" lengthAdjust="spacingAndGlyphs">5</text>
<text x="219.48" y="156.60" font-size="10.90" textLength="7.45" lengthAdjust="spacingAndGlyphs">0</text>
<text x="185.60" y="104.80" font-size="12.00" textLength="20.08" lengthAdjust="spacingAndGlyphs">Km</text>
<text x="209.14" y="654.82" font-size="11.00" textLength="25.28" lengthAdjust="spacingAndGlyphs">40°N</text>
<text x="199.14" y="607.02" font-size="11.00" textLength="35.30" lengthAdjust="spacingAndGlyphs">40.5°N</text>
<text x="209.14" y="558.85" font-size="11.00" textLength="25.28" lengthAdjust="spacingAndGlyphs">41°N</text>
<text x="199.14" y="510.31" font-size="11.00" textLength="35.30" lengthAdjust="spacingAndGlyphs">41.5°N</text>
<text x="209.14" y="461.40" font-size="11.00" textLength="25.28" lengthAdjust="spacingAndGlyphs">42°N</text>
<text x="199.14" y="412.11" font-size="11.00" textLength="35.30" lengthAdjust="spacingAndGlyphs">42.5°N</text>
<text x="209.14" y="362.42" font-size="11.00" textLength="25.28" lengthAdjust="spacingAndGlyphs">43°N</text>
<text x="199.14" y="312.32" font-size="11.00" textLength="35.30" lengthAdjust="spacingAndGlyphs">43.5°N</text>
<text x="209.14" y="261.80" font-size="11.00" textLength="25.28" lengthAdjust="spacingAndGlyphs">44°N</text>
<text x="199.14" y="210.86" font-size="11.00" textLength="35.30" lengthAdjust="spacingAndGlyphs">44.5°N</text>
<text x="232.73" y="667.00" font-size="11.00" textLength="17.18" lengthAdjust="spacingAndGlyphs">5°E</text>
<text x="264.25" y="667.00" font-size="11.00" textLength="27.12" lengthAdjust="spacingAndGlyphs">5.5°E</text>
<text x="305.59" y="667.00" font-size="11.00" textLength="17.30" lengthAdjust="spacingAndGlyphs">6°E</text>
<text x="337.11" y="667.00" font-size="11.00" textLength="27.24" lengthAdjust="spacingAndGlyphs">6.5°E</text>
<text x="378.56" y="667.00" font-size="11.00" textLength="17.30" lengthAdjust="spacingAndGlyphs">7°E</text>
<text x="410.08" y="667.00" font-size="11.00" textLength="27.24" lengthAdjust="spacingAndGlyphs">7.5°E</text>
<text x="451.63" y="667.00" font-size="11.00" textLength="17.22" lengthAdjust="spacingAndGlyphs">8°E</text>
<text x="483.15" y="667.00" font-size="11.00" textLength="27.16" lengthAdjust="spacingAndGlyphs">8.5°E</text>
<text x="524.57" y="667.00" font-size="11.00" textLength="17.26" lengthAdjust="spacingAndGlyphs">9°E</text>
<text x="556.09" y="667.00" font-size="11.00" textLength="27.19" lengthAdjust="spacingAndGlyphs">9.5°E</text>
<text x="593.90" y="667.00" font-size="11.00" textLength="24.22" lengthAdjust="spacingAndGlyphs">10°E</text>
<text x="625.47" y="667.00" font-size="11.00" textLength="34.05" lengthAdjust="spacingAndGlyphs">10.5°E</text>
<text x="666.88" y="667.00" font-size="11.00" textLength="24.22" lengthAdjust="spacingAndGlyphs">11°E</text>
<text x="698.45" y="667.00" font-size="11.00" textLength="34.05" lengthAdjust="spacingAndGlyphs">11.5°E</text>
<text x="752.85" y="666.60" font-size="10.90" textLength="6.40" lengthAdjust="spacingAndGlyphs">0</text>
<text x="789.04" y="666.80" font-size="10.90" textLength="6.45" lengthAdjust="spacingAndGlyphs">5</text>
<text x="824.54" y="666.80" font-size="10.90" textLength="12.49" lengthAdjust="spacingAndGlyphs">10</text>
<text x="861.96" y="666.80" font-size="10.90" textLength="12.20" lengthAdjust="spacingAndGlyphs">15</text>
<text x="806.56" y="675.80" font-size="12.00" textLength="19.08" lengthAdjust="spacingAndGlyphs">Km</text>
<text x="433.29" y="718.90" font-size="19.80" textLength="43.96" lengthAdjust="spacingAndGlyphs">from</text>
<text x="483.06" y="718.90" font-size="19.80" textLength="83.88" lengthAdjust="spacingAndGlyphs">02:50:00</text>
<text x="573.26" y="718.90" font-size="19.80" textLength="18.57" lengthAdjust="spacingAndGlyphs">to</text>
<text x="598.16" y="718.90" font-size="19.80" textLength="83.76" lengthAdjust="spacingAndGlyphs">02:59:59</text>
</svg></body></html>
